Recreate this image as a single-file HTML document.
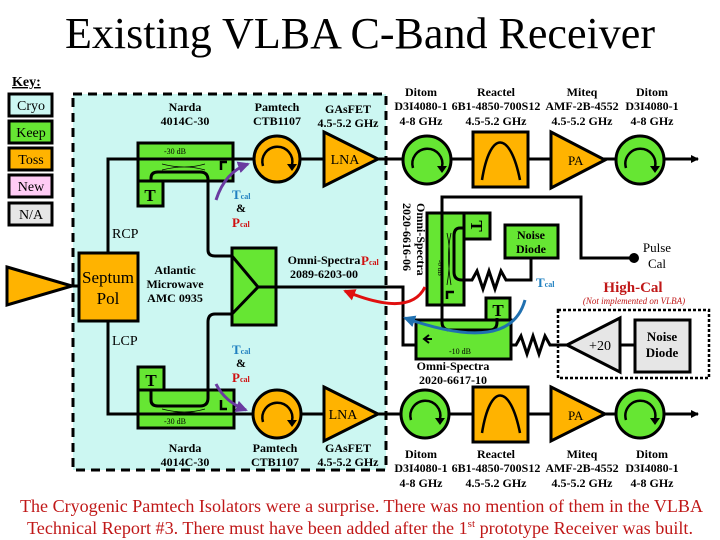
<!DOCTYPE html>
<html><head><meta charset="utf-8"><style>
html,body{margin:0;padding:0;background:#fff}
svg{display:block}
text{font-family:"Liberation Serif",serif}
.b{font-weight:bold;font-size:12px}
</style></head><body>
<svg width="720" height="540" viewBox="0 0 720 540" xmlns="http://www.w3.org/2000/svg">
<defs>
<marker id="ah" markerWidth="8" markerHeight="8" refX="7" refY="4" orient="auto" markerUnits="userSpaceOnUse"><path d="M0,0 L8,4 L0,8 Z" fill="#000"/></marker>
<marker id="pa" markerWidth="12" markerHeight="12" refX="10" refY="6" orient="auto" markerUnits="userSpaceOnUse"><path d="M0,0 L12,6 L0,12 Z" fill="#6a3aa0"/></marker>
<marker id="ra" markerWidth="12" markerHeight="12" refX="10" refY="6" orient="auto" markerUnits="userSpaceOnUse"><path d="M0,0 L12,6 L0,12 Z" fill="#e01010"/></marker>
<marker id="ba" markerWidth="12" markerHeight="12" refX="10" refY="6" orient="auto" markerUnits="userSpaceOnUse"><path d="M0,0 L12,6 L0,12 Z" fill="#2070b0"/></marker>
</defs>
<text x="360" y="48" font-size="44" text-anchor="middle" textLength="590" lengthAdjust="spacingAndGlyphs">Existing VLBA C-Band Receiver</text>

<!-- Key -->
<text x="12" y="86" class="b" style="font-size:14px;text-decoration:underline">Key:</text>
<g stroke="#000" stroke-width="3">
<rect x="9" y="94" width="43" height="22" fill="#ccf7f2"/>
<rect x="9" y="121" width="43" height="22" fill="#66e633"/>
<rect x="9" y="148" width="43" height="22" fill="#ffb300"/>
<rect x="9" y="175" width="43" height="22" fill="#ffccf5"/>
<rect x="9" y="203" width="43" height="22" fill="#e6e6e6"/>
</g>
<g font-size="14" text-anchor="middle">
<text x="31" y="110">Cryo</text><text x="31" y="137">Keep</text><text x="31" y="164">Toss</text><text x="31" y="191">New</text><text x="31" y="219">N/A</text>
</g>

<!-- Cryo box -->
<rect x="73" y="94" width="313" height="376" fill="#ccf7f2" stroke="#000" stroke-width="3" stroke-dasharray="9,6"/>

<!-- wires -->
<g fill="none" stroke="#000" stroke-width="3">
<path d="M108,253 V159 H323"/>
<path d="M108,321 V414 H324"/>
<path d="M72,286 H79"/>
<path d="M276,287 H403 V345 H416"/>
<path d="M378,159 H698" marker-end="url(#ah)"/>
<path d="M378,414 H698" marker-end="url(#ah)"/>
<path d="M151,181 V178 Q151,172 158,172 H200 Q208,172 208,180 V250 Q208,256 215,256 H232"/>
<path d="M151,390 V400 Q151,406 158,406 H200 Q208,406 208,398 V322 Q208,314 215,314 H232"/>
<path d="M442,305 V197 H581 V258 H634"/>
<path d="M465,228 H460 Q454,228 454,236 V272 Q454,280 462,280 H472 l5,-9 6,18 6,-18 6,18 6,-18 5,9 H531 V258"/>
<path d="M511,345 H516 l5,-9 6,18 6,-18 6,18 6,-18 5,9 H567"/>
<path d="M620,345 H635"/>
</g>
<circle cx="634" cy="258" r="5" fill="#000"/>

<!-- Top row components -->
<g stroke="#000" stroke-width="3">
<rect x="138" y="143" width="95" height="38" fill="#66e633"/>
<rect x="138" y="181" width="25" height="25" fill="#66e633"/>
<circle cx="277" cy="159" r="23" fill="#ffb300"/>
<path d="M324,132 L378,159 L324,186 Z" fill="#ffb300"/>
<circle cx="427" cy="160" r="24" fill="#66e633"/>
<rect x="473" y="132" width="55" height="55" fill="#ffb300"/>
<path d="M551,132 L605,160 L551,188 Z" fill="#ffb300"/>
<circle cx="640" cy="160" r="24" fill="#66e633"/>
</g>
<line x1="138" y1="159" x2="233" y2="159" stroke="#000" stroke-width="3"/>
<path d="M151,181 V178 Q151,172 158,172 H200 Q208,172 208,180 V185" fill="none" stroke="#000" stroke-width="3"/>
<text x="175" y="154" font-size="8" text-anchor="middle">-30 dB</text>
<path d="M162,164 Q185,170 205,164 M162,170 Q185,164 205,170" fill="none" stroke="#000" stroke-width="0.8"/>
<path d="M221,170 V162 H227" fill="none" stroke="#000" stroke-width="2.5"/>
<text x="150" y="201" font-size="17" font-weight="bold" text-anchor="middle">T</text>
<text x="345" y="164" font-size="14" text-anchor="middle">LNA</text>
<text x="568" y="165" font-size="13">PA</text>

<!-- Bottom row components -->
<g stroke="#000" stroke-width="3">
<rect x="138" y="390" width="96" height="38" fill="#66e633"/>
<rect x="138" y="367" width="26" height="23" fill="#66e633"/>
<circle cx="277" cy="414" r="24" fill="#ffb300"/>
<path d="M324,387 L378,414 L324,441 Z" fill="#ffb300"/>
<circle cx="425" cy="414" r="24" fill="#66e633"/>
<rect x="473" y="387" width="55" height="55" fill="#ffb300"/>
<path d="M551,387 L605,414 L551,441 Z" fill="#ffb300"/>
<circle cx="640" cy="414" r="24" fill="#66e633"/>
</g>
<line x1="138" y1="414" x2="234" y2="414" stroke="#000" stroke-width="3"/>
<path d="M151,390 V400 Q151,406 158,406 H200 Q208,406 208,398 V388" fill="none" stroke="#000" stroke-width="3"/>
<path d="M162,409 Q185,415 205,409 M162,415 Q185,409 205,415" fill="none" stroke="#000" stroke-width="0.8"/>
<path d="M221,400 V409 H227" fill="none" stroke="#000" stroke-width="2.5"/>
<text x="175" y="424" font-size="8" text-anchor="middle">-30 dB</text>
<text x="151" y="386" font-size="17" font-weight="bold" text-anchor="middle">T</text>
<text x="343" y="419" font-size="14" text-anchor="middle">LNA</text>
<text x="568" y="420" font-size="13">PA</text>

<!-- circulator / filter symbols -->
<g fill="none" stroke="#000" stroke-width="2.5">
<path d="M263,166 A15,15 0 1 1 292,165"/><path d="M413,168 A15,15 0 1 1 442,167"/>
<path d="M626,168 A15,15 0 1 1 655,167"/>
<path d="M263,422 A15,15 0 1 1 292,421"/><path d="M411,420 A15,15 0 1 1 440,419"/>
<path d="M626,420 A15,15 0 1 1 655,419"/>
<path d="M482,180 C490,130 510,130 520,180"/>
<path d="M482,433 C490,383 510,383 520,433"/>
</g>
<g fill="#000">
<path d="M287,164 L297,164 L292,171Z"/><path d="M437,166 L447,166 L442,173Z"/><path d="M650,166 L660,166 L655,173Z"/>
<path d="M287,420 L297,420 L292,427Z"/><path d="M435,418 L445,418 L440,425Z"/><path d="M650,418 L660,418 L655,425Z"/>
</g>

<!-- Septum, feed, combiner -->
<path d="M7,267 L72,286 L7,305 Z" fill="#ffb300" stroke="#000" stroke-width="3"/>
<rect x="79" y="253" width="59" height="68" fill="#ffb300" stroke="#000" stroke-width="3"/>
<text x="108" y="283" font-size="17" text-anchor="middle">Septum</text>
<text x="108" y="304" font-size="17" text-anchor="middle">Pol</text>
<rect x="232" y="248" width="44" height="77" fill="#66e633" stroke="#000" stroke-width="3"/>
<path d="M232,256 L258,287 L232,314 M258,287 H276" fill="none" stroke="#000" stroke-width="3"/>

<!-- Right cal couplers -->
<g stroke="#000" stroke-width="3">
<rect x="427" y="213" width="37" height="92" fill="#66e633"/>
<rect x="464" y="213" width="26" height="26" fill="#66e633"/>
<rect x="505" y="225" width="53" height="33" fill="#66e633"/>
<rect x="416" y="320" width="95" height="39" fill="#66e633"/>
<rect x="486" y="298" width="24" height="22" fill="#66e633"/>
</g>
<path d="M442,200 V322 Q442,330 450,330 H490 Q497,330 497,322 V318" fill="none" stroke="#000" stroke-width="3"/>
<path d="M403,345 H416 M465,228 H460 Q454,228 454,236 V272 Q454,280 462,280 H470" fill="none" stroke="#000" stroke-width="3"/>
<path d="M447,233 Q452,255 447,285 M451,233 Q446,255 451,285" fill="none" stroke="#000" stroke-width="0.8"/>
<path d="M454,292 H447 V299" fill="none" stroke="#000" stroke-width="2.5"/>
<path d="M432,339 H425 M429,335 L424,339 L429,343" fill="none" stroke="#000" stroke-width="2"/>
<text x="477" y="232" font-size="17" font-weight="bold" text-anchor="middle" transform="rotate(90 477 226)">T</text>
<text x="498" y="316" font-size="17" font-weight="bold" text-anchor="middle">T</text>
<text x="531" y="239" class="b" text-anchor="middle">Noise</text>
<text x="531" y="253" class="b" text-anchor="middle">Diode</text>
<text x="460" y="354" font-size="8" text-anchor="middle">-10 dB</text>
<text x="0" y="0" font-size="7" transform="translate(438,260) rotate(90)">-6 dB</text>
<text x="0" y="0" class="b" transform="translate(417,203) rotate(90)">Omni-Spectra</text>
<text x="0" y="0" class="b" transform="translate(403,203) rotate(90)">2020-6616-06</text>

<!-- High cal -->
<rect x="558" y="310" width="151" height="68" fill="none" stroke="#000" stroke-width="2.5" stroke-dasharray="3,2"/>
<path d="M567,345 L620,318 L620,372 Z" fill="#e6e6e6" stroke="#000" stroke-width="3"/>
<text x="600" y="350" font-size="14" text-anchor="middle">+20</text>
<rect x="635" y="320" width="55" height="52" fill="#e6e6e6" stroke="#000" stroke-width="3"/>
<text x="662" y="341" class="b" text-anchor="middle" style="font-size:13px">Noise</text>
<text x="662" y="357" class="b" text-anchor="middle" style="font-size:13px">Diode</text>
<text x="633" y="292" font-size="15" font-weight="bold" fill="#c01818" text-anchor="middle">High-Cal</text>
<text x="634" y="304" font-size="9" font-style="italic" fill="#c01818" text-anchor="middle">(Not implemented on VLBA)</text>
<text x="657" y="252" font-size="13" text-anchor="middle">Pulse</text>
<text x="657" y="268" font-size="13" text-anchor="middle">Cal</text>

<!-- Cal arrows -->
<path d="M216,200 Q225,172 248,164" fill="none" stroke="#6a3aa0" stroke-width="3" marker-end="url(#pa)"/>
<path d="M216,384 Q225,402 246,410" fill="none" stroke="#6a3aa0" stroke-width="3" marker-end="url(#pa)"/>
<path d="M425,287 Q410,318 345,291" fill="none" stroke="#e01010" stroke-width="3" marker-end="url(#ra)"/>
<path d="M525,300 Q510,355 405,318" fill="none" stroke="#2070b0" stroke-width="3" marker-end="url(#ba)"/>

<!-- Labels -->
<g class="b" text-anchor="middle">
<text x="185" y="111">Narda</text><text x="185" y="125">4014C-30</text>
<text x="277" y="111">Pamtech</text><text x="277" y="125">CTB1107</text>
<text x="348" y="113">GAsFET</text><text x="348" y="127">4.5-5.2 GHz</text>
<text x="421" y="96">Ditom</text><text x="421" y="110">D3I4080-1</text><text x="421" y="125">4-8 GHz</text>
<text x="496" y="96">Reactel</text><text x="496" y="110">6B1-4850-700S12</text><text x="496" y="125">4.5-5.2 GHz</text>
<text x="582" y="96">Miteq</text><text x="582" y="110">AMF-2B-4552</text><text x="582" y="125">4.5-5.2 GHz</text>
<text x="652" y="96">Ditom</text><text x="652" y="110">D3I4080-1</text><text x="652" y="125">4-8 GHz</text>
<text x="185" y="452">Narda</text><text x="185" y="466">4014C-30</text>
<text x="275" y="452">Pamtech</text><text x="275" y="466">CTB1107</text>
<text x="348" y="452">GAsFET</text><text x="348" y="466">4.5-5.2 GHz</text>
<text x="421" y="458">Ditom</text><text x="421" y="472">D3I4080-1</text><text x="421" y="487">4-8 GHz</text>
<text x="496" y="458">Reactel</text><text x="496" y="472">6B1-4850-700S12</text><text x="496" y="487">4.5-5.2 GHz</text>
<text x="582" y="458">Miteq</text><text x="582" y="472">AMF-2B-4552</text><text x="582" y="487">4.5-5.2 GHz</text>
<text x="652" y="458">Ditom</text><text x="652" y="472">D3I4080-1</text><text x="652" y="487">4-8 GHz</text>
<text x="175" y="274">Atlantic</text><text x="175" y="288">Microwave</text><text x="175" y="302">AMC 0935</text>
<text x="324" y="264">Omni-Spectra</text><text x="324" y="278">2089-6203-00</text>
<text x="453" y="370">Omni-Spectra</text><text x="453" y="384">2020-6617-10</text>
</g>
<text x="112" y="238" font-size="14">RCP</text>
<text x="112" y="345" font-size="14">LCP</text>
<text x="232" y="199" font-size="13" font-weight="bold" fill="#2080c0">T<tspan font-size="8">cal</tspan></text>
<text x="236" y="212" font-size="12" font-weight="bold">&amp;</text>
<text x="232" y="227" font-size="13" font-weight="bold" fill="#d01010">P<tspan font-size="8">cal</tspan></text>
<text x="232" y="354" font-size="13" font-weight="bold" fill="#2080c0">T<tspan font-size="8">cal</tspan></text>
<text x="236" y="367" font-size="12" font-weight="bold">&amp;</text>
<text x="232" y="382" font-size="13" font-weight="bold" fill="#d01010">P<tspan font-size="8">cal</tspan></text>
<text x="361" y="265" font-size="13" font-weight="bold" fill="#d01010">P<tspan font-size="8">cal</tspan></text>
<text x="536" y="287" font-size="13" font-weight="bold" fill="#2080c0">T<tspan font-size="8">cal</tspan></text>

<text x="20" y="512" font-size="18" fill="#c01818" textLength="683" lengthAdjust="spacingAndGlyphs">The Cryogenic Pamtech Isolators were a surprise. There was no mention of them in the VLBA</text>
<text x="27" y="534" font-size="18" fill="#c01818" textLength="666" lengthAdjust="spacingAndGlyphs">Technical Report #3. There must have been added after the 1<tspan font-size="11" dy="-7">st</tspan><tspan dy="7"> prototype  Receiver was built.</tspan></text>
</svg>
</body></html>
